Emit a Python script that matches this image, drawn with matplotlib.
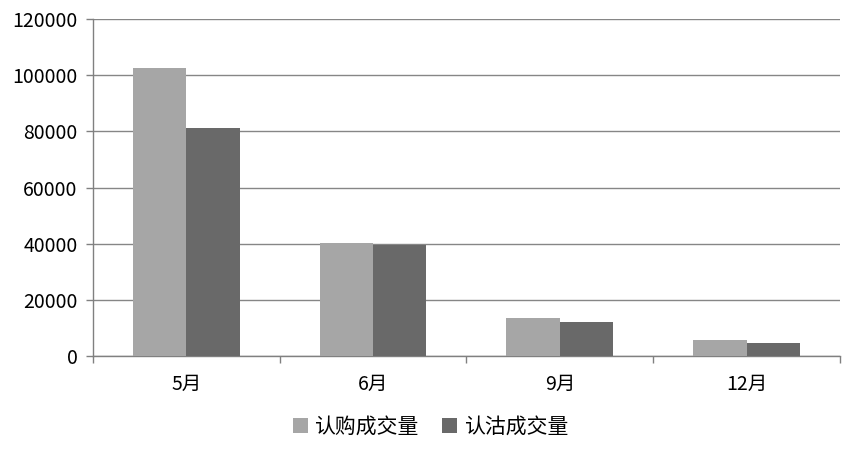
import matplotlib.pyplot as plt
import numpy as np

plt.rcParams['font.family'] = ['Noto Sans CJK SC', 'DejaVu Sans']

months = ['5月', '6月', '9月', '12月']
call_vol = [102500, 40200, 13500, 5700]   # 认购成交量
put_vol = [81100, 39500, 12100, 4700]     # 认沽成交量
yticks = [0, 20000, 40000, 60000, 80000, 100000, 120000]

fig = plt.figure(figsize=(8.52, 4.51), dpi=100)
ax = fig.add_axes([0.109, 0.2106, 0.877, 0.7473])

x = np.arange(len(months))
w = 0.286
ax.bar(x - w / 2, call_vol, w, color='#a6a6a6', label='认购成交量', zorder=3)
ax.bar(x + w / 2, put_vol, w, color='#696969', label='认沽成交量', zorder=3)

ax.set_xlim(-0.5, len(months) - 0.5)
ax.set_ylim(0, 120000)
ax.set_yticks(yticks)
ax.set_yticklabels([str(v) for v in yticks], fontsize=14)
ax.set_xticks(x)
ax.set_xticklabels(months, fontsize=14)
ax.tick_params(axis='x', length=0, pad=13)
ax.set_xticks(np.arange(-0.5, len(months)), minor=True)
ax.tick_params(axis='x', which='minor', length=5, color='#808080', width=1)
ax.tick_params(axis='y', length=5, color='#808080', width=1, pad=6)

ax.grid(axis='y', color='#868686', linewidth=1, zorder=0)
for s in ['top', 'right']:
    ax.spines[s].set_visible(False)
for s in ['left', 'bottom']:
    ax.spines[s].set_color('#808080')
    ax.spines[s].set_linewidth(1)

leg = fig.legend(loc='lower center', bbox_to_anchor=(0.505, -0.012), ncol=2, frameon=False,
                 fontsize=15, handlelength=0.75, handleheight=0.75, handletextpad=0.3,
                 columnspacing=1.1)

fig.savefig('out.png', dpi=100)
